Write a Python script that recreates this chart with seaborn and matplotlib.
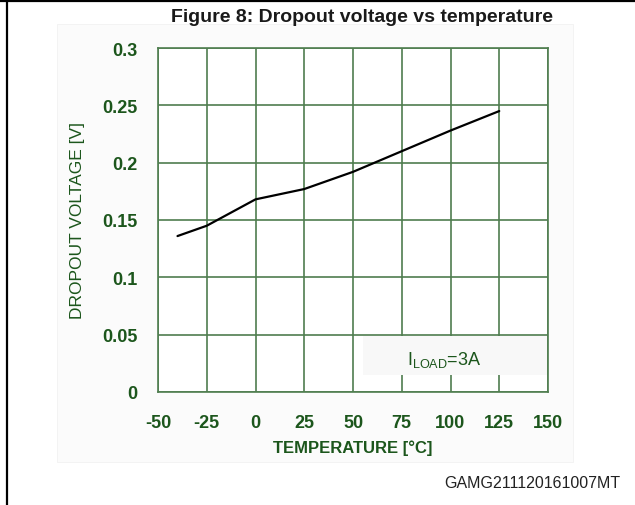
import matplotlib
matplotlib.use('Agg')
import matplotlib.pyplot as plt
from matplotlib.lines import Line2D
from matplotlib.patches import Rectangle
import seaborn as sns
import pandas as pd

# values
temperature = [-40, -25, 0, 25, 50, 75, 100, 125]
dropout_v = [0.136, 0.145, 0.168, 0.177, 0.192, 0.210, 0.228, 0.245]
x_ticks = [-50, -25, 0, 25, 50, 75, 100, 125, 150]
y_ticks = [0, 0.05, 0.1, 0.15, 0.2, 0.25, 0.3]
y_tick_labels = ['0', '0.05', '0.1', '0.15', '0.2', '0.25', '0.3']

df = pd.DataFrame({'temperature': temperature, 'dropout': dropout_v})

sns.set_style('white')
plt.rcParams['font.family'] = ['Liberation Sans', 'DejaVu Sans']
plt.rcParams['mathtext.fontset'] = 'custom'
plt.rcParams['mathtext.rm'] = 'Liberation Sans'
plt.rcParams['mathtext.it'] = 'Liberation Sans'
plt.rcParams['axes.unicode_minus'] = False

green_txt = '#1c561c'
green_grid = '#4f7d4f'

fig = plt.figure(figsize=(6.35, 5.06), dpi=100)
fig.patch.set_facecolor('white')

# faint panel behind the chart image
fig.patches.append(Rectangle((57 / 635, 1 - 463 / 506), 516 / 635, 438 / 506,
                             transform=fig.transFigure, facecolor='#fbfbfb',
                             edgecolor='#f2f2f2', linewidth=0.6, zorder=-5))

ax = fig.add_axes([158 / 635, 1 - 393 / 506, 390 / 635, 344 / 506])
ax.set_zorder(2)
ax.set_facecolor('white')

sns.lineplot(data=df, x='temperature', y='dropout', color='black', linewidth=1.6, ax=ax, zorder=3)

ax.set_xlim(-50, 150)
ax.set_ylim(0, 0.3)
ax.set_xticks(x_ticks)
ax.set_yticks(y_ticks)
ax.set_yticklabels(y_tick_labels)
ax.set_axisbelow(True)
ax.grid(True, color=green_grid, linewidth=1.2)
for s in ax.spines.values():
    s.set_color(green_grid)
    s.set_linewidth(1.2)
ax.tick_params(length=0, colors=green_txt, labelsize=13)
ax.tick_params(axis='y', pad=15)
ax.tick_params(axis='x', pad=16)
for lab in ax.get_xticklabels() + ax.get_yticklabels():
    lab.set_fontweight('bold')

ax.set_xlabel('TEMPERATURE [°C]', color=green_txt, fontsize=12, fontweight='bold', labelpad=6)
ax.set_ylabel('DROPOUT VOLTAGE [V]', color=green_txt, fontsize=12.5, labelpad=12)

# legend-like box with load current
ax.add_patch(Rectangle((55, 0.0148), 94.5, 0.0342, facecolor='#f8f8f8', edgecolor='none', zorder=1))
ax.text(97, 0.029, r'I$_{\mathrm{LOAD}}$=3A', color=green_txt, fontsize=13, ha='center', va='center', zorder=4)

fig.text(362 / 635, 1 - 17 / 506, 'Figure 8: Dropout voltage vs temperature',
         ha='center', va='center', fontsize=14, fontweight='bold', color='#1a1a1a')
fig.text(620 / 635, 1 - 484 / 506, 'GAMG211120161007MT',
         ha='right', va='center', fontsize=11.5, color='#222222')

# page frame lines
fig.add_artist(Line2D([7 / 635, 7 / 635], [0, 1], transform=fig.transFigure, color='black', linewidth=1.6))
fig.add_artist(Line2D([0, 1], [1 - 2 / 506, 1 - 2 / 506], transform=fig.transFigure, color='black', linewidth=1.6))

fig.savefig('out.png', dpi=100)
